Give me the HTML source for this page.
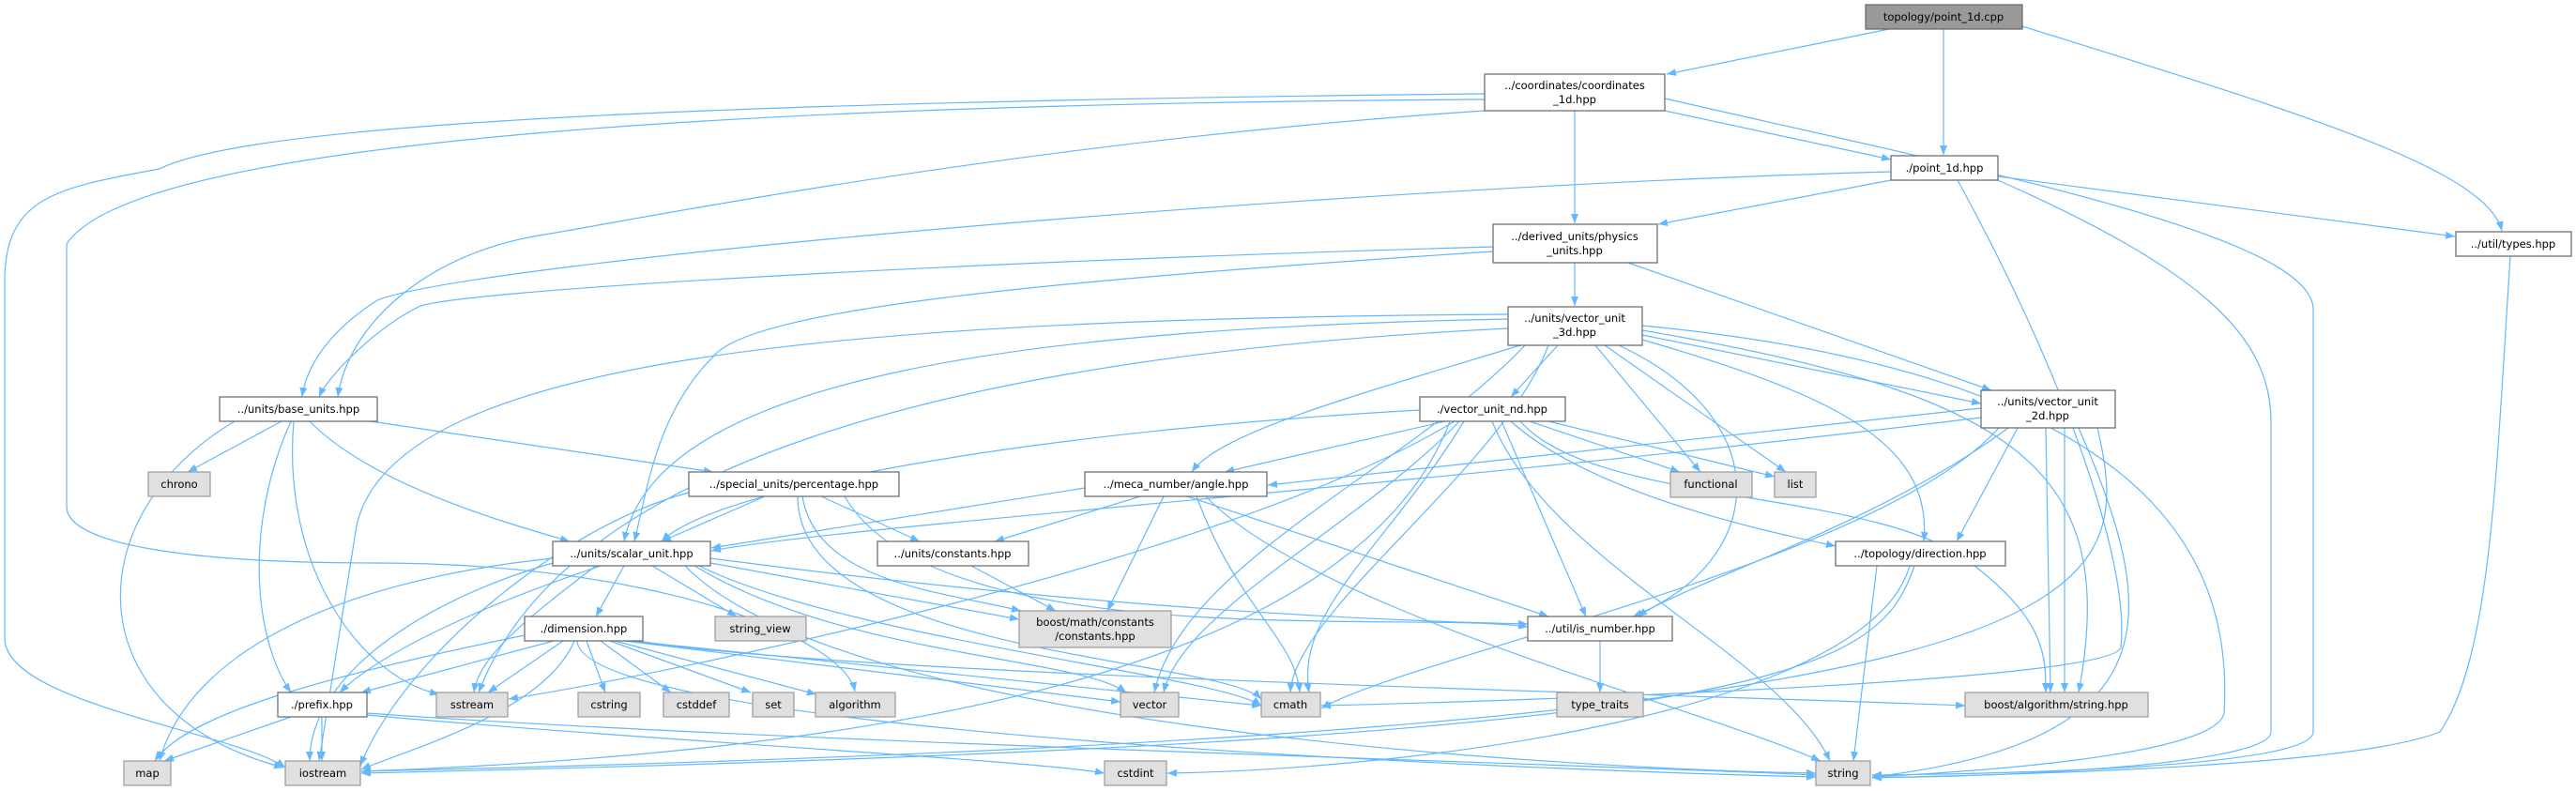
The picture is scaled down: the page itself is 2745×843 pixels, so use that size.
<!DOCTYPE html>
<html><head><meta charset="utf-8"><style>
html,body{margin:0;padding:0;background:#fff;}
svg{display:block;}
text{font-family:"DejaVu Sans","Liberation Sans",sans-serif;font-size:11.5px;fill:#000;text-anchor:middle;}
.e{fill:none;stroke:#63b8ff;stroke-width:1.2;marker-end:url(#a);}
.n{fill:#fff;stroke:#666;stroke-width:1.2;}
.l{fill:#e0e0e0;stroke:#999;stroke-width:1.2;}
</style></head><body>
<svg width="2745" height="843" viewBox="0 0 2745 843" xmlns="http://www.w3.org/2000/svg">
<defs><marker id="a" markerUnits="userSpaceOnUse" markerWidth="12" markerHeight="10" refX="10" refY="4" orient="auto"><path d="M0,0 L10,4 L0,8 z" fill="#63b8ff"/></marker></defs>
<g>
<path class="e" d="M2013,31 L1776,79"/>
<path class="e" d="M2071,31 L2071,165"/>
<path class="e" d="M2155,28 C2450,120 2650,180 2666,246"/>
<path class="e" d="M1678,118 L1678,238"/>
<path class="e" d="M1774,118 L2015,170"/>
<path class="e" d="M1582,118 C1100,150 700,230 580,250 C450,270 370,350 360,423"/>
<path class="e" d="M1582,100 C600,110 250,140 170,180 C60,200 5,210 5,300 L5,680 C5,750 250,780 304,818"/>
<path class="e" d="M1582,106 C900,110 150,140 71,260 L71,540 C71,580 200,600 400,600 C700,600 900,680 911,737"/>
<path class="e" d="M1774,105 C2100,180 2465,250 2465,330 L2465,780 C2465,820 2100,825 1995,826"/>
<path class="e" d="M2015,183 C1400,200 500,280 402,320 C340,360 325,400 322,423"/>
<path class="e" d="M2015,192 L1767,239"/>
<path class="e" d="M2129,188 L2616,252"/>
<path class="e" d="M2086,192 C2200,400 2270,600 2260,690 C2250,730 1500,750 1408,752"/>
<path class="e" d="M2129,192 C2350,290 2420,360 2420,450 L2420,780 C2420,820 2050,830 1995,828"/>
<path class="e" d="M2675,273 C2660,500 2655,700 2600,780 C2500,820 2100,826 1995,829"/>
<path class="e" d="M1591,268 C1100,300 800,330 760,380 C700,440 690,520 676,577"/>
<path class="e" d="M1678,280 L1678,326"/>
<path class="e" d="M1735,280 L2122,416"/>
<path class="e" d="M1591,263 C1000,280 480,310 446,327 C400,350 350,400 340,423"/>
<path class="e" d="M300,449 L200,503"/>
<path class="e" d="M395,449 L760,503"/>
<path class="e" d="M330,449 C400,520 550,560 607,577"/>
<path class="e" d="M310,449 C260,560 270,680 310,738"/>
<path class="e" d="M313,449 C300,600 380,720 468,740"/>
<path class="e" d="M250,449 C80,550 80,760 302,818"/>
<path class="e" d="M815,529 L705,577"/>
<path class="e" d="M875,529 L980,577"/>
<path class="e" d="M900,529 C1000,700 1500,650 1628,668"/>
<path class="e" d="M855,529 C870,620 1000,630 1088,651"/>
<path class="e" d="M850,529 C850,700 1300,700 1344,745"/>
<path class="e" d="M734,525 C600,560 430,700 384,816"/>
<path class="e" d="M1156,520 L758,584"/>
<path class="e" d="M1215,529 L1060,577"/>
<path class="e" d="M1240,529 L1180,651"/>
<path class="e" d="M1265,529 L1650,657"/>
<path class="e" d="M1275,529 C1320,650 1380,680 1385,738"/>
<path class="e" d="M1285,529 C1400,650 1800,750 1940,811"/>
<path class="e" d="M665,603 L635,657"/>
<path class="e" d="M695,603 L785,657"/>
<path class="e" d="M757,600 L1086,660"/>
<path class="e" d="M757,595 C1100,640 1400,660 1628,665"/>
<path class="e" d="M740,603 C900,700 1150,700 1200,738"/>
<path class="e" d="M745,603 C900,680 1300,720 1344,752"/>
<path class="e" d="M730,603 C900,780 1700,820 1935,824"/>
<path class="e" d="M589,595 C350,620 200,700 170,811"/>
<path class="e" d="M589,600 C450,640 330,720 330,811"/>
<path class="e" d="M635,603 C560,660 510,700 505,738"/>
<path class="e" d="M640,603 C500,650 400,700 362,738"/>
<path class="e" d="M1035,603 L1125,651"/>
<path class="e" d="M590,683 L385,738"/>
<path class="e" d="M600,683 L520,738"/>
<path class="e" d="M625,683 L645,738"/>
<path class="e" d="M640,683 L715,738"/>
<path class="e" d="M650,683 L800,738"/>
<path class="e" d="M655,683 L870,740"/>
<path class="e" d="M665,683 L1194,748"/>
<path class="e" d="M670,683 L1344,752"/>
<path class="e" d="M680,683 C900,720 1800,740 2094,752"/>
<path class="e" d="M615,683 C620,780 1600,820 1935,828"/>
<path class="e" d="M559,677 C350,720 200,760 165,811"/>
<path class="e" d="M612,683 C580,760 430,800 385,820"/>
<path class="e" d="M310,764 L175,811"/>
<path class="e" d="M343,764 L343,811"/>
<path class="e" d="M391,762 C700,790 1100,810 1177,824"/>
<path class="e" d="M391,760 C800,790 1700,815 1935,826"/>
<path class="e" d="M1705,683 L1705,738"/>
<path class="e" d="M2000,603 L1975,811"/>
<path class="e" d="M2040,603 C2000,720 1900,790 385,824"/>
<path class="e" d="M2035,603 C1990,760 1500,820 1244,824"/>
<path class="e" d="M2111,445 C1500,520 900,560 758,587"/>
<path class="e" d="M2111,435 L1351,517"/>
<path class="e" d="M2150,456 L2085,577"/>
<path class="e" d="M2140,456 C2000,560 1800,620 1745,657"/>
<path class="e" d="M2180,456 L2185,738"/>
<path class="e" d="M2200,456 L2200,738"/>
<path class="e" d="M2215,456 C2300,650 2320,790 1995,828"/>
<path class="e" d="M2130,456 C2000,600 1500,700 1408,755"/>
<path class="e" d="M2235,456 C2280,650 2250,780 385,822"/>
<path class="e" d="M1513,437 C1100,460 760,520 705,577"/>
<path class="e" d="M1540,449 L1305,503"/>
<path class="e" d="M1630,449 L1790,503"/>
<path class="e" d="M1650,449 L1891,508"/>
<path class="e" d="M1600,449 L1690,657"/>
<path class="e" d="M1610,449 C1700,530 1900,570 1956,582"/>
<path class="e" d="M1620,449 C1700,540 2000,520 2100,600 C2180,660 2180,700 2180,738"/>
<path class="e" d="M1590,449 C1650,600 1900,700 1950,811"/>
<path class="e" d="M1560,449 C1480,580 1380,650 1395,738"/>
<path class="e" d="M1555,449 C1450,560 1260,650 1240,738"/>
<path class="e" d="M1550,449 C1300,600 700,720 542,745"/>
<path class="e" d="M1545,449 C1450,700 1000,800 385,822"/>
<path class="e" d="M1607,340 C1100,350 700,400 665,577"/>
<path class="e" d="M1607,335 C900,340 420,380 380,560 L340,811"/>
<path class="e" d="M1607,350 C1000,380 600,500 510,738"/>
<path class="e" d="M1625,368 C1500,500 1260,600 1230,738"/>
<path class="e" d="M1650,368 C1600,500 1380,650 1375,738"/>
<path class="e" d="M1700,368 L1812,503"/>
<path class="e" d="M1710,368 L1903,503"/>
<path class="e" d="M1725,368 C1900,450 1880,600 1740,657"/>
<path class="e" d="M1750,362 C1950,420 2060,470 2050,577"/>
<path class="e" d="M1750,357 L2111,430"/>
<path class="e" d="M1660,368 L1610,423"/>
<path class="e" d="M1620,368 C1450,420 1300,460 1270,503"/>
<path class="e" d="M1750,347 C2300,400 2380,600 2370,760 C2360,810 2050,825 1995,828"/>
<path class="e" d="M1750,352 C2150,420 2260,500 2215,738"/>
</g>
<g>
<rect x="1988" y="5" width="167" height="26" fill="#999" stroke="#666" stroke-width="1.2"/><text x="2071" y="22">topology/point_1d.cpp</text>
<rect class="n" x="1582" y="79" width="192" height="39"/><text x="1678" y="95">../coordinates/coordinates</text><text x="1678" y="110">_1d.hpp</text>
<rect class="n" x="2015" y="166" width="114" height="26"/><text x="2072" y="183">./point_1d.hpp</text>
<rect class="n" x="1591" y="239" width="175" height="41"/><text x="1678" y="256">../derived_units/physics</text><text x="1678" y="271">_units.hpp</text>
<rect class="n" x="2617" y="247" width="123" height="26"/><text x="2678" y="264">../util/types.hpp</text>
<rect class="n" x="1607" y="327" width="143" height="41"/><text x="1678" y="343">../units/vector_unit</text><text x="1678" y="358">_3d.hpp</text>
<rect class="n" x="234" y="423" width="168" height="26"/><text x="318" y="440">../units/base_units.hpp</text>
<rect class="n" x="1513" y="423" width="155" height="26"/><text x="1590" y="440">./vector_unit_nd.hpp</text>
<rect class="n" x="2111" y="416" width="143" height="40"/><text x="2182" y="432">../units/vector_unit</text><text x="2182" y="447">_2d.hpp</text>
<rect class="l" x="158" y="503" width="66" height="26"/><text x="191" y="520">chrono</text>
<rect class="n" x="734" y="503" width="224" height="26"/><text x="846" y="520">../special_units/percentage.hpp</text>
<rect class="n" x="1156" y="503" width="194" height="26"/><text x="1253" y="520">../meca_number/angle.hpp</text>
<rect class="l" x="1780" y="503" width="87" height="27"/><text x="1823" y="520">functional</text>
<rect class="l" x="1891" y="503" width="44" height="27"/><text x="1913" y="520">list</text>
<rect class="n" x="589" y="577" width="168" height="26"/><text x="673" y="594">../units/scalar_unit.hpp</text>
<rect class="n" x="935" y="577" width="161" height="26"/><text x="1015" y="594">../units/constants.hpp</text>
<rect class="n" x="1956" y="577" width="181" height="26"/><text x="2046" y="594">../topology/direction.hpp</text>
<rect class="n" x="559" y="657" width="126" height="26"/><text x="622" y="674">./dimension.hpp</text>
<rect class="l" x="762" y="657" width="97" height="26"/><text x="810" y="674">string_view</text>
<rect class="l" x="1086" y="651" width="162" height="39"/><text x="1167" y="667">boost/math/constants</text><text x="1167" y="682">/constants.hpp</text>
<rect class="n" x="1628" y="657" width="154" height="26"/><text x="1705" y="674">../util/is_number.hpp</text>
<rect class="n" x="296" y="738" width="95" height="26"/><text x="343" y="755">./prefix.hpp</text>
<rect class="l" x="465" y="738" width="76" height="26"/><text x="503" y="755">sstream</text>
<rect class="l" x="616" y="738" width="66" height="26"/><text x="649" y="755">cstring</text>
<rect class="l" x="707" y="738" width="70" height="26"/><text x="742" y="755">cstddef</text>
<rect class="l" x="802" y="738" width="44" height="26"/><text x="824" y="755">set</text>
<rect class="l" x="869" y="738" width="85" height="26"/><text x="911" y="755">algorithm</text>
<rect class="l" x="1194" y="738" width="62" height="26"/><text x="1225" y="755">vector</text>
<rect class="l" x="1344" y="738" width="63" height="26"/><text x="1375" y="755">cmath</text>
<rect class="l" x="1659" y="738" width="92" height="26"/><text x="1705" y="755">type_traits</text>
<rect class="l" x="2094" y="738" width="195" height="26"/><text x="2191" y="755">boost/algorithm/string.hpp</text>
<rect class="l" x="132" y="811" width="50" height="26"/><text x="157" y="828">map</text>
<rect class="l" x="304" y="811" width="80" height="26"/><text x="344" y="828">iostream</text>
<rect class="l" x="1177" y="811" width="66" height="26"/><text x="1210" y="828">cstdint</text>
<rect class="l" x="1935" y="811" width="58" height="26"/><text x="1964" y="828">string</text>
</g>
</svg>
</body></html>
